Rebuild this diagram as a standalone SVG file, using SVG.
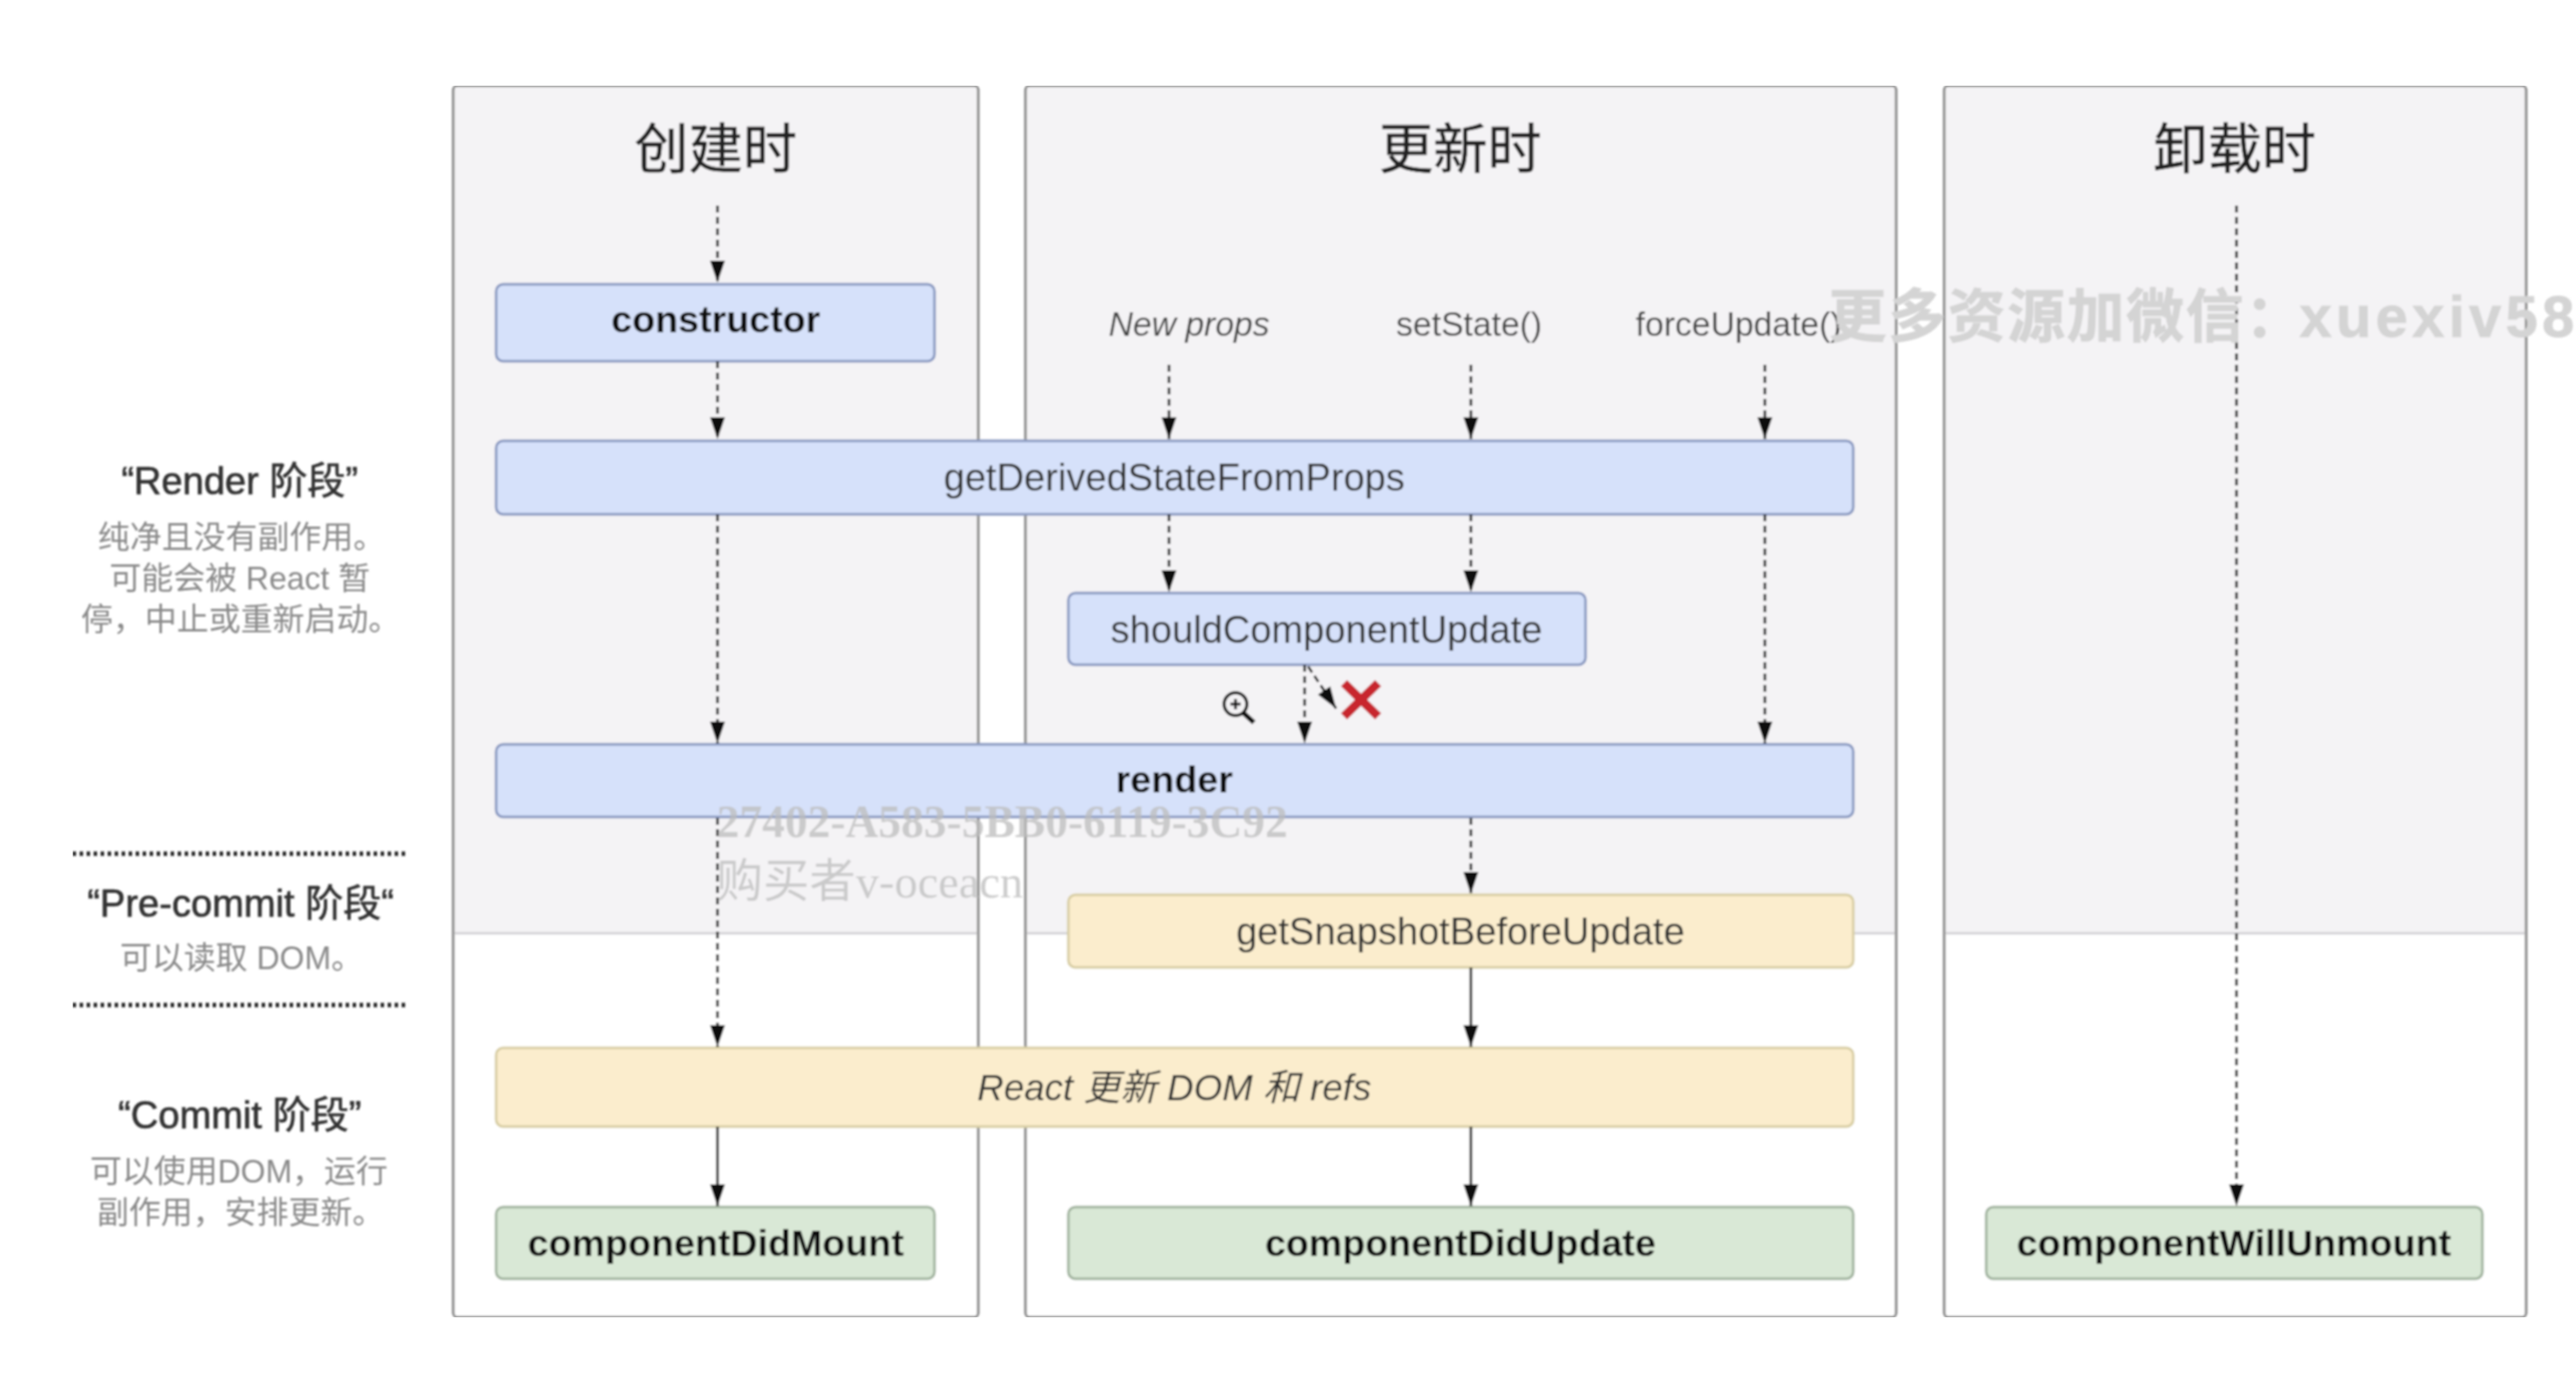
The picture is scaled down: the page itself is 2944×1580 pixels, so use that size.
<svg xmlns="http://www.w3.org/2000/svg" width="2944" height="1580" viewBox="0 0 2944 1580">
<style>
text{font-family:"Liberation Sans","Noto Sans CJK SC",sans-serif;text-anchor:middle;dominant-baseline:central}
.panel{fill:#fff;stroke:#8a8a8a;stroke-width:3}
.shade{fill:#f4f3f5}
.div{stroke:#cfcfd2;stroke-width:2.5}
.title{font-size:62px;fill:#222;stroke:#222;stroke-width:.6}
.blue{fill:#d6e1fa;stroke:#8c9bc2;stroke-width:3}
.yellow{fill:#fbedcd;stroke:#d9cfa5;stroke-width:3}
.green{fill:#d9e8d6;stroke:#a3b5a0;stroke-width:3}
.n{font-size:43.5px;fill:#333}
.b{font-size:43px;font-weight:bold;fill:#111}
.ev{font-size:38.5px;fill:#444}
.ph{font-size:43.5px;fill:#333;stroke:#333;stroke-width:.7}
.de{font-size:36.5px;fill:#8a8a8a}
.dot{stroke:#222;stroke-width:5;stroke-dasharray:4 4}
.d{fill:none;stroke:#111;stroke-width:2.8;stroke-dasharray:8 5;marker-end:url(#h)}
.s{fill:none;stroke:#111;stroke-width:2.8;marker-end:url(#h)}
.wm{font-family:"Liberation Serif","Noto Sans CJK SC",serif;fill:#bdbdbd;text-anchor:start}
</style>
<defs>
<marker id="h" markerUnits="userSpaceOnUse" markerWidth="25" markerHeight="18" refX="25" refY="9" viewBox="0 0 25 18" orient="auto"><path d="M0 0.5 L25 9 L0 17.5Z" fill="#111"/></marker>
<filter id="soft" x="0" y="0" width="100%" height="100%"><feGaussianBlur stdDeviation="0.9"/></filter>
</defs>
<rect width="2944" height="1580" fill="#fff"/>
<g filter="url(#soft)">
<g id="panels">
<g id="panel-mount"><rect class="panel" x="518" y="98" width="600" height="1408" rx="5"/><rect class="shade" x="520" y="100" width="596" height="966"/><line class="div" x1="520" y1="1067" x2="1116" y2="1067"/><text class="title" x="818" y="171">创建时</text></g>
<g id="panel-update"><rect class="panel" x="1172" y="98" width="995" height="1408" rx="5"/><rect class="shade" x="1174" y="100" width="991" height="966"/><line class="div" x1="1174" y1="1067" x2="2165" y2="1067"/><text class="title" x="1669" y="171">更新时</text></g>
<g id="panel-unmount"><rect class="panel" x="2222" y="98" width="665" height="1408" rx="5"/><rect class="shade" x="2224" y="100" width="661" height="966"/><line class="div" x1="2224" y1="1067" x2="2885" y2="1067"/><text class="title" x="2554" y="171">卸载时</text></g>
</g>
<g id="phases">
<g id="phase-render"><text class="ph" x="274" y="550">“Render 阶段”</text><text class="de" x="276" y="614">纯净且没有副作用。</text><text class="de" x="274" y="661">可能会被 React 暂</text><text class="de" x="275" y="708">停，中止或重新启动。</text></g>
<line class="dot" x1="83" y1="976" x2="466" y2="976"/>
<g id="phase-precommit"><text class="ph" x="275" y="1033">“Pre-commit 阶段“</text><text class="de" x="276" y="1095">可以读取 DOM。</text></g>
<line class="dot" x1="83" y1="1149" x2="466" y2="1149"/>
<g id="phase-commit"><text class="ph" x="274" y="1275">“Commit 阶段”</text><text class="de" x="273" y="1339">可以使用DOM，运行</text><text class="de" x="275" y="1386">副作用，安排更新。</text></g>
</g>
<g id="triggers">
<text class="ev" x="1359" y="370" font-style="italic">New props</text>
<text class="ev" x="1679" y="370">setState()</text>
<text class="ev" x="1987" y="370">forceUpdate()</text>
</g>
<g id="node-constructor"><rect class="blue" x="567" y="325" width="501" height="88" rx="8"/><text class="b" x="818" y="365">constructor</text></g>
<g id="node-gdsfp"><rect class="blue" x="567" y="504" width="1551" height="84" rx="8"/><text class="n" x="1342" y="546">getDerivedStateFromProps</text></g>
<g id="node-scu"><rect class="blue" x="1221" y="678" width="591" height="82" rx="8"/><text class="n" x="1516" y="720">shouldComponentUpdate</text></g>
<g id="node-render"><rect class="blue" x="567" y="851" width="1551" height="83" rx="8"/><text class="b" x="1342" y="891">render</text></g>
<g id="node-gsbu"><rect class="yellow" x="1221" y="1023" width="897" height="83" rx="8"/><text class="n" x="1669" y="1065">getSnapshotBeforeUpdate</text></g>
<g id="node-react"><rect class="yellow" x="567" y="1198" width="1551" height="90" rx="8"/><text class="n" x="1342" y="1243" font-style="italic" font-size="42" style="font-size:42px">React 更新 DOM 和 refs</text></g>
<g id="node-cdm"><rect class="green" x="567" y="1380" width="501" height="82" rx="8"/><text class="b" x="818" y="1421">componentDidMount</text></g>
<g id="node-cdu"><rect class="green" x="1221" y="1380" width="897" height="82" rx="8"/><text class="b" x="1669" y="1421">componentDidUpdate</text></g>
<g id="node-cwu"><rect class="green" x="2270" y="1380" width="567" height="82" rx="8"/><text class="b" x="2553" y="1421">componentWillUnmount</text></g>
<g id="connectors">
<path class="d" d="M820 235V323"/>
<path class="d" d="M820 413V502"/>
<path class="d" d="M820 588V850"/>
<path class="d" d="M820 935V1197"/>
<path class="d" d="M1336 417V502"/>
<path class="d" d="M1681 417V502"/>
<path class="d" d="M2017 417V502"/>
<path class="d" d="M1336 588V677"/>
<path class="d" d="M1681 588V677"/>
<path class="d" d="M2017 588V850"/>
<path class="d" d="M1491 760V850"/>
<path class="d" d="M1495 762L1527 810"/>
<path class="d" d="M1681 935V1022"/>
<path class="s" d="M1681 1106V1197"/>
<path class="s" d="M820 1288V1379"/>
<path class="s" d="M1681 1288V1379"/>
<path class="d" d="M2556 235V1379"/>
</g>
<g id="cross" stroke="#c8282e" stroke-width="10" fill="none"><path d="M1536 781L1575 819M1575 781L1536 819"/></g>
<g id="zoom-cursor" fill="none" stroke="#111"><circle cx="1412" cy="805" r="13" stroke-width="3.5"/><path d="M1421 815L1433 826" stroke-width="5.5"/><path d="M1406 805H1418M1412 799V811" stroke-width="3"/></g>
<g id="watermarks">
<text x="2090" y="362" font-size="66" font-weight="bold" fill="#d4d4d4" stroke="#d4d4d4" stroke-width="1" style="text-anchor:start;letter-spacing:2px">更多资源加微信：<tspan dx="-6" letter-spacing="5">xuexiv587</tspan></text>
<text class="wm" x="819" y="939" font-size="52" font-weight="bold" opacity=".75">27402-A583-5BB0-6119-3C92</text>
<text class="wm" x="819" y="1008" font-size="53" opacity=".75">购买者v-oceacn</text>
</g>
</g>
</svg>
